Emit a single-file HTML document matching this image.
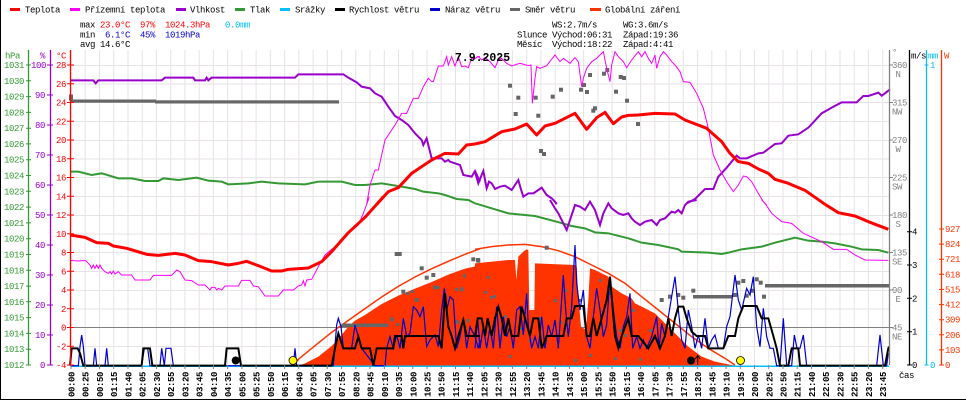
<!DOCTYPE html>
<html><head><meta charset="utf-8">
<style>
html,body{margin:0;padding:0;background:#fff;width:966px;height:400px;overflow:hidden}
svg{display:block}
text{font-family:"Liberation Mono","DejaVu Sans Mono",monospace;font-size:9px;letter-spacing:-0.4px}
.xl text{font-weight:bold;font-size:9px}
</style></head><body>
<svg width="966" height="400" viewBox="0 0 966 400" xmlns="http://www.w3.org/2000/svg">
<rect x="0" y="0" width="966" height="400" fill="#fff"/>
<line x1="0.5" y1="0" x2="0.5" y2="400" stroke="#000"/>
<line x1="0" y1="399.5" x2="966" y2="399.5" stroke="#000"/>

<!-- legend -->
<g stroke-width="3">
<line x1="10" y1="9.5" x2="20" y2="9.5" stroke="#ff0000"/>
<line x1="70" y1="9.5" x2="80" y2="9.5" stroke="#ff00ff"/>
<line x1="176" y1="9.5" x2="186" y2="9.5" stroke="#9900cc"/>
<line x1="235" y1="9.5" x2="245" y2="9.5" stroke="#339933"/>
<line x1="280" y1="9.5" x2="290" y2="9.5" stroke="#00bfff"/>
<line x1="335" y1="9.5" x2="345" y2="9.5" stroke="#000000"/>
<line x1="430" y1="9.5" x2="440" y2="9.5" stroke="#0000cc"/>
<line x1="510" y1="9.5" x2="520" y2="9.5" stroke="#666666"/>
<line x1="590" y1="9.5" x2="601" y2="9.5" stroke="#ff3300"/>
</g>
<g fill="#000">
<text x="25" y="12.5">Teplota</text>
<text x="85" y="12.5">Přízemní teplota</text>
<text x="190" y="12.5">Vlhkost</text>
<text x="250" y="12.5">Tlak</text>
<text x="295" y="12.5">Srážky</text>
<text x="349" y="12.5">Rychlost větru</text>
<text x="445" y="12.5">Náraz větru</text>
<text x="525" y="12.5">Směr větru</text>
<text x="605" y="12.5">Globální záření</text>
</g>

<!-- stats -->
<text x="80" y="27.5">max</text>
<text x="100" y="27.5" fill="#ff0000">23.0°C</text>
<text x="140" y="27.5" fill="#ff0000">97%</text>
<text x="165" y="27.5" fill="#ff0000">1024.3hPa</text>
<text x="225" y="27.5" fill="#00bfff">0.0mm</text>
<text x="80" y="37.5">min</text>
<text x="105" y="37.5" fill="#0000cc">6.1°C</text>
<text x="140" y="37.5" fill="#0000cc">45%</text>
<text x="165" y="37.5" fill="#0000cc">1019hPa</text>
<text x="80" y="47">avg 14.6°C</text>

<text x="552" y="27.5">WS:2.7m/s</text>
<text x="623" y="27.5">WG:3.6m/s</text>
<text x="517" y="37.5">Slunce</text>
<text x="552" y="37.5">Východ:06:31</text>
<text x="623" y="37.5">Západ:19:36</text>
<text x="517" y="47">Měsíc</text>
<text x="552" y="47">Východ:18:22</text>
<text x="623" y="47">Západ:4:41</text>

<!-- gridlines -->
<path stroke="#e6e2e6" stroke-width="1" fill="none" d="M71 50V365M85.2 50V365M99.5 50V365M113.7 50V365M128 50V365M142.2 50V365M156.4 50V365M170.7 50V365M184.9 50V365M199.2 50V365M213.4 50V365M227.6 50V365M241.9 50V365M256.1 50V365M270.4 50V365M284.6 50V365M298.8 50V365M313.1 50V365M327.3 50V365M341.6 50V365M355.8 50V365M370 50V365M384.3 50V365M398.5 50V365M412.8 50V365M427 50V365M441.2 50V365M455.5 50V365M469.7 50V365M484 50V365M498.2 50V365M512.4 50V365M526.7 50V365M540.9 50V365M555.2 50V365M569.4 50V365M583.6 50V365M597.9 50V365M612.1 50V365M626.4 50V365M640.6 50V365M654.8 50V365M669.1 50V365M683.3 50V365M697.6 50V365M711.8 50V365M726 50V365M740.3 50V365M754.5 50V365M768.8 50V365M783 50V365M797.2 50V365M811.5 50V365M825.7 50V365M840 50V365M854.2 50V365M868.4 50V365M882.7 50V365"/>
<path stroke="#e6e2e6" stroke-width="1" fill="none" d="M71 65.5H889M71 84H889M71 102.5H889M71 121.5H889M71 140.5H889M71 159H889M71 177.5H889M71 196.5H889M71 215.5H889M71 234H889M71 252.5H889M71 271.5H889M71 290.5H889M71 309H889M71 346.5H889"/>
<line x1="71" y1="327.5" x2="889" y2="327.5" stroke="#808080" stroke-width="1"/>

<!-- radiation fill -->
<g transform="translate(65,200) scale(0.333333)">
<polygon fill="#ff3300" points="700,497 720,490 760,470 800,438 830,405 850,380 870,362 900,345 950,312 1000,287 1050,266 1100,246 1150,224 1200,206 1245,196 1245,497"/>
</g>
<g transform="translate(475,200) scale(0.333333)">
<polygon fill="#ff3300" points="0,190 100,180 120,180 124,240 130,170 145,155 155,148 160,150 163,330 178,330 180,190 300,195 305,200 310,290 318,380 333,390 340,300 345,205 360,210 400,230 410,260 440,280 470,295 480,310 500,320 540,340 560,360 600,400 640,440 680,470 720,485 770,495 780,497 0,497"/>
</g>

<!-- radiation max curve -->
<g fill="none" stroke="#ff3300" stroke-width="1.5">
<polyline vector-effect="non-scaling-stroke" transform="translate(65,200) scale(0.333333)" points="690,492 700,478 750,437 800,397 850,361 900,326 950,291 1000,259 1050,231 1100,206 1150,184 1200,163 1245,146"/>
<polyline vector-effect="non-scaling-stroke" transform="translate(475,200) scale(0.333333)" points="0,148 50,140 100,135 150,133 200,140 250,152 300,170 350,195 400,220 450,250 500,290 550,330 600,370 650,410 700,445 750,475 780,495"/>
</g>

<!-- wind direction -->
<g fill="#666666">
<rect x="69" y="94.5" width="4" height="6"/>
<rect x="70" y="99.5" width="86" height="3.2"/>
<rect x="155" y="100.3" width="184" height="3.2"/>
<rect x="341.5" y="323.5" width="47" height="3.5"/>
<rect x="765" y="284" width="124" height="3.5"/>
<rect x="693" y="295" width="39" height="3.5"/>
<g>
<rect x="508" y="83.7" width="4" height="4"/><rect x="516.3" y="95.7" width="4" height="4"/><rect x="513.7" y="112" width="4" height="4"/><rect x="533.7" y="95.7" width="4" height="4"/><rect x="536.3" y="113.7" width="4" height="4"/><rect x="539" y="149" width="4" height="4"/><rect x="542" y="152" width="4" height="4"/><rect x="550.7" y="94.7" width="4" height="4"/><rect x="559" y="87.7" width="4" height="4"/><rect x="579" y="87.7" width="4" height="4"/><rect x="582" y="83" width="4" height="4"/><rect x="585" y="90" width="4" height="4"/><rect x="588" y="73" width="4" height="4"/><rect x="591.3" y="108.7" width="4" height="4"/><rect x="593" y="106.3" width="4" height="4"/><rect x="602" y="71.7" width="4" height="4"/><rect x="605.3" y="68" width="4" height="4"/><rect x="614" y="89.7" width="4" height="4"/><rect x="618.7" y="75" width="4" height="4"/><rect x="622" y="76" width="4" height="4"/><rect x="625" y="98.7" width="4" height="4"/><rect x="636" y="122" width="4" height="4"/>
<rect x="394.7" y="252" width="7" height="4"/><rect x="419.7" y="266.3" width="4" height="4"/><rect x="424.7" y="275.7" width="4" height="4"/><rect x="431.3" y="273" width="4" height="4"/><rect x="401.3" y="289.7" width="4" height="4"/><rect x="406" y="292" width="3" height="3"/><rect x="411" y="290" width="3" height="3"/><rect x="414.7" y="298" width="4" height="4"/><rect x="433" y="285.3" width="4" height="4"/><rect x="437" y="286" width="3" height="3"/><rect x="459.7" y="287.3" width="4" height="4"/><rect x="463" y="273.7" width="3" height="4"/><rect x="471.3" y="257.3" width="4" height="4"/><rect x="476.3" y="258.7" width="4" height="4"/><rect x="455" y="288" width="3" height="3"/><rect x="444" y="294" width="3" height="3"/><rect x="389.7" y="317.3" width="4" height="4"/><rect x="466.3" y="318.7" width="3" height="4"/><rect x="456" y="320" width="3" height="4"/><rect x="396" y="323" width="3" height="3"/>
<rect x="476" y="258" width="4" height="4"/><rect x="544.7" y="245.7" width="4" height="4"/><rect x="487" y="276" width="3" height="3"/><rect x="493" y="295" width="3" height="3"/><rect x="490" y="296" width="3" height="3"/><rect x="484" y="291" width="3" height="3"/><rect x="504" y="315" width="3" height="3"/><rect x="519" y="327" width="3" height="3"/><rect x="539" y="317" width="3" height="3"/><rect x="559" y="321" width="3" height="3"/><rect x="564" y="289" width="3" height="3"/><rect x="579" y="299" width="3" height="3"/><rect x="600" y="324" width="3" height="3"/><rect x="609" y="292" width="3" height="3"/><rect x="619" y="329" width="3" height="3"/><rect x="639" y="358" width="3" height="3"/><rect x="544" y="339" width="3" height="3"/><rect x="529" y="339" width="3" height="3"/><rect x="499" y="334" width="3" height="3"/><rect x="509" y="355" width="3" height="3"/><rect x="574" y="359" width="3" height="3"/><rect x="589" y="354" width="3" height="3"/><rect x="614" y="357" width="3" height="3"/><rect x="554" y="299" width="3" height="3"/><rect x="599" y="279" width="3" height="3"/><rect x="624" y="334" width="3" height="3"/><rect x="632" y="309" width="3" height="3"/><rect x="644" y="344" width="3" height="3"/><rect x="649" y="329" width="3" height="3"/>
<rect x="659.7" y="298" width="4" height="4"/><rect x="668" y="294.7" width="4" height="4"/><rect x="676.3" y="293" width="4" height="4"/><rect x="681.3" y="295.7" width="4" height="4"/><rect x="691.3" y="288.7" width="4" height="4"/><rect x="733" y="293" width="4" height="4"/><rect x="736.3" y="280.7" width="4" height="4"/><rect x="741.3" y="279" width="4" height="4"/><rect x="744.7" y="293.7" width="4" height="4"/><rect x="749.7" y="288.7" width="4" height="4"/><rect x="754.7" y="277.3" width="4" height="4"/><rect x="758.7" y="280.7" width="4" height="4"/><rect x="762" y="294.7" width="4" height="4"/>
</g>
</g>

<!-- pressure -->
<g fill="none" stroke="#339933" stroke-width="2">
<polyline vector-effect="non-scaling-stroke" transform="translate(65,45) scale(0.333333)" points="15,380 40,380 80,390 110,385 160,400 200,400 240,408 280,408 295,400 340,405 395,398 430,407 470,410 490,418 550,415 590,410 640,415 720,418 760,410 830,410 870,420 900,420 950,415 1010,425 1050,432 1075,440 1120,445 1140,450 1175,462 1210,465 1230,475"/>
<polyline vector-effect="non-scaling-stroke" transform="translate(475,200) scale(0.333333)" points="0,10 50,25 100,40 180,48 245,65 290,78 330,85 360,97 400,100 460,115 500,128 550,135 610,148 620,155 700,158 740,162 760,158 800,148 860,140 900,128 960,113 1000,122 1040,125 1080,130 1130,140 1160,148 1210,150 1240,158"/>
</g>

<!-- humidity -->
<g fill="none" stroke="#9900cc" stroke-width="2">
<polyline vector-effect="non-scaling-stroke" transform="translate(65,45) scale(0.333333)" points="15,106 85,106 92,115 100,106 290,106 300,98 385,98 390,106 420,106 425,98 430,106 440,98 690,98 700,88 835,88 850,98 875,112 890,125 915,130 930,145 950,155 970,185 990,213 1010,225 1030,240 1050,265 1070,285 1075,300 1085,280 1100,340 1130,340 1140,350 1150,345 1155,350 1185,360 1195,390 1220,395 1230,378 1245,410"/>
<polyline vector-effect="non-scaling-stroke" transform="translate(475,45) scale(0.333333)" points="0,380 10,415 18,395 25,378 35,430 42,410 50,415 60,432 75,425 90,422 110,435 120,420 130,405 137,430 145,455 160,445 175,445 190,435 200,428 215,450 230,460 240,470 245,478"/>
<polyline vector-effect="non-scaling-stroke" transform="translate(475,200) scale(0.333333)" points="225,0 240,25 250,40 260,60 275,90 285,60 300,15 315,20 330,30 345,5 360,30 375,75 385,40 400,10 410,25 430,40 445,45 460,40 470,55 480,65 495,75 510,65 530,60 545,75 555,60 570,55 580,45 590,35 600,38 610,30 620,40 630,15 640,5 665,0"/>
<polyline vector-effect="non-scaling-stroke" transform="translate(475,45) scale(0.333333)" points="635,475 660,462 690,432 715,432 730,395 755,368 785,332 795,340 815,340 850,325 865,323 900,297 920,295 940,272 970,268 1000,248 1040,205 1070,188 1100,172 1145,172 1165,153 1180,153 1210,143 1220,152 1230,145 1245,133"/>
</g>

<!-- ground temperature -->
<g fill="none" stroke="#ff00ff" stroke-width="1">
<polyline vector-effect="non-scaling-stroke" transform="translate(65,200) scale(0.333333)" points="15,181 40,183 55,182 62,182 70,190 75,195 80,205 85,195 90,205 95,195 100,205 105,195 110,205 120,215 130,220 135,215 140,222 145,213 150,222 160,215 170,225 200,225 210,240 255,240 265,226 320,226 335,210 345,215 360,240 380,242 400,255 420,255 430,265 435,270 440,262 450,262 455,270 460,265 470,270 480,258 520,258 530,241 555,241 565,258 580,260 600,288 640,288 655,270 685,270 700,258 710,255 715,242 720,258 725,240 740,238 760,200 780,165 810,140 850,100 880,75 895,40 910,0 912,-10"/>
<polyline vector-effect="non-scaling-stroke" transform="translate(65,45) scale(0.333333)" points="905,478 915,420 930,375 940,375 960,285 990,240 1010,205 1025,205 1045,160 1060,160 1075,125 1090,100 1100,110 1105,110 1120,63 1135,63 1145,35 1150,60 1160,35 1170,63 1180,35 1190,65 1200,63 1210,68 1220,40 1230,40 1238,35 1245,35"/>
<polyline vector-effect="non-scaling-stroke" transform="translate(475,45) scale(0.333333)" points="0,40 10,35 20,45 30,38 45,50 60,68 70,45 80,40 95,55 110,63 135,55 160,62 168,60 172,175 180,100 185,65 195,70 215,62 240,30 255,50 265,40 285,55 300,38 310,50 320,125 325,100 335,70 350,50 365,40 375,30 385,20 395,70 405,110 410,60 420,20 430,35 445,50 455,68 470,45 490,20 500,35 510,20 520,40 530,55 540,30 545,70 555,35 565,20 575,30 590,50 600,60 615,80 625,110 645,112 665,145 685,190 700,250 715,330 735,375 755,410 775,440 790,420 805,393 815,395 830,410 850,445 865,470 875,480"/>
<polyline vector-effect="non-scaling-stroke" transform="translate(475,200) scale(0.333333)" points="860,0 870,10 890,40 920,65 950,70 985,100 1040,125 1075,148 1115,148 1140,165 1170,180 1240,181"/>
</g>

<!-- temperature -->
<g fill="none" stroke="#ff0000" stroke-width="3" stroke-linejoin="round">
<polyline vector-effect="non-scaling-stroke" transform="translate(65,200) scale(0.333333)" points="15,105 60,112 95,128 130,130 145,138 185,145 245,163 280,166 330,160 360,165 400,182 440,185 490,195 520,190 545,184 580,197 620,213 650,213 670,208 730,204 770,185 800,155 850,98 900,52 945,2 955,-10"/>
<polyline vector-effect="non-scaling-stroke" transform="translate(65,45) scale(0.333333)" points="935,478 970,440 1000,428 1040,385 1070,365 1100,345 1140,325 1180,327 1205,300 1230,297"/>
<polyline vector-effect="non-scaling-stroke" transform="translate(475,45) scale(0.333333)" points="0,297 30,290 80,260 120,252 155,237 185,270 210,243 240,235 300,205 335,253 365,218 390,202 415,236 440,216 460,211 490,210 540,205 600,207 630,225 695,250 740,290 765,325 790,350 820,355 850,372 880,385 900,403 940,415 990,436 1050,478"/>
<polyline vector-effect="non-scaling-stroke" transform="translate(475,200) scale(0.333333)" points="1050,13 1090,38 1140,48 1180,65 1240,88"/>
</g>

<!-- rain baseline -->
<line x1="71" y1="366.3" x2="889" y2="366.3" stroke="#00bfff" stroke-width="1.5"/>

<!-- gusts -->
<g fill="none" stroke="#0000cc" stroke-width="1.2">
<polyline vector-effect="non-scaling-stroke" transform="translate(65,200) scale(0.333333)" points="15,497 40,497 45,440 50,405 55,440 60,497 85,497 90,445 95,497 120,497 125,445 130,497 230,497 238,445 248,445 255,497 285,497 290,445 298,497 303,445 318,445 325,497 685,497 690,445 695,497 805,497 815,375 820,355 828,380 835,445 860,445 870,375 880,410 890,445 930,497 960,497 965,445 975,410 985,445 995,405 1005,445 1015,355 1025,410 1035,400 1045,320 1055,330 1065,350 1075,320 1085,440 1095,420 1110,405 1120,440 1130,330 1138,265 1145,330 1155,290 1165,300 1175,445 1185,410 1195,355 1205,445 1215,380 1230,410 1240,445 1245,420"/>
<polyline vector-effect="non-scaling-stroke" transform="translate(475,200) scale(0.333333)" points="0,445 8,355 15,445 25,380 35,445 45,380 55,445 65,320 75,445 85,350 95,410 105,380 115,445 125,330 135,320 145,405 155,280 160,380 170,445 180,410 190,445 200,350 210,445 220,375 230,410 240,360 250,445 265,225 272,330 280,410 290,320 300,135 305,250 315,330 325,270 335,410 345,445 355,350 365,265 375,330 385,410 395,375 405,230 415,330 425,410 435,445 445,380 455,350 465,280 473,445 485,410 495,445 505,420 515,445 530,410 545,350 552,445 560,370 570,410 580,350 590,290 600,230 610,330 620,420 630,445 640,330 650,380 660,445 670,405 680,445 690,355 700,445 710,420 720,405 730,445 745,445 755,380 765,350 780,225 790,300 800,330 815,265 825,285 835,230 845,380 855,440 865,325 875,410 885,445 895,445 905,497 915,497 925,355 935,497 950,497 958,405 966,445 975,445 985,405 995,497 1205,497 1215,405 1225,497 1235,497 1240,460"/>
</g>

<!-- wind speed -->
<g fill="none" stroke="#000" stroke-width="2">
<polyline vector-effect="non-scaling-stroke" transform="translate(65,200) scale(0.333333)" points="15,497 20,445 38,445 45,460 55,497 230,497 235,445 255,445 262,497 480,497 485,445 520,445 528,497 800,497 810,445 820,400 835,445 870,445 880,410 890,445 915,445 925,497 935,445 985,445 990,408 1010,408 1015,445 1020,408 1120,408 1130,445 1140,280 1150,380 1160,408 1170,445 1180,408 1195,360 1205,408 1245,408"/>
<polyline vector-effect="non-scaling-stroke" transform="translate(475,200) scale(0.333333)" points="0,408 8,355 20,355 30,408 38,355 50,408 60,355 70,320 80,355 90,408 100,355 110,408 130,408 140,320 150,355 165,408 175,355 190,355 200,445 215,408 265,408 275,355 290,355 300,318 325,318 335,408 345,408 355,355 365,408 380,355 395,300 405,230 420,408 430,445 440,408 460,355 470,408 490,408 520,445 540,408 555,445 570,408 580,355 590,408 600,355 610,320 625,320 635,355 650,395 665,408 690,408 700,445 745,445 760,408 780,408 790,355 805,318 845,318 860,355 880,355 895,408 905,445 915,497 940,497 950,445 970,445 975,497 1230,497 1240,445 1242,440"/>
</g>

<!-- sun / moon markers -->
<circle cx="235.7" cy="360.5" r="4" fill="#000"/>
<circle cx="691" cy="360.5" r="4" fill="#000"/>
<circle cx="293" cy="360.5" r="4" fill="#ffff00" stroke="#000" stroke-width="0.8"/>
<circle cx="740.5" cy="360.5" r="4" fill="#ffff00" stroke="#000" stroke-width="0.8"/>
<line x1="697.7" y1="365" x2="697.7" y2="356" stroke="#000" stroke-width="1"/>
<path d="M695.2 359 L697.7 355.5 L700.2 359" fill="none" stroke="#000" stroke-width="1"/>

<!-- left axes -->
<line x1="28.5" y1="50" x2="28.5" y2="365" stroke="#339933" stroke-width="1.3"/>
<line x1="50.5" y1="50" x2="50.5" y2="365" stroke="#9900cc" stroke-width="1.3"/>
<line x1="70.5" y1="50" x2="70.5" y2="365" stroke="#ff0000" stroke-width="1.3"/>
<text x="5" y="58.5" fill="#339933">hPa</text>
<text x="40" y="58.5" fill="#9900cc">%</text>
<text x="56" y="58.5" fill="#ff0000">°C</text>

<g stroke="#339933" stroke-width="1"><path d="M26 365H31M26 349.2H31M26 333.4H31M26 317.6H31M26 301.8H31M26 286.1H31M26 270.3H31M26 254.5H31M26 238.7H31M26 222.9H31M26 207.1H31M26 191.3H31M26 175.5H31M26 159.7H31M26 143.9H31M26 128.2H31M26 112.4H31M26 96.6H31M26 80.8H31M26 65H31"/></g>
<g fill="#339933" text-anchor="end">
<text x="24" y="368">1012</text><text x="24" y="352.2">1013</text><text x="24" y="336.4">1014</text><text x="24" y="320.6">1015</text><text x="24" y="304.8">1016</text><text x="24" y="289.1">1017</text><text x="24" y="273.3">1018</text><text x="24" y="257.5">1019</text><text x="24" y="241.7">1020</text><text x="24" y="225.9">1021</text><text x="24" y="210.1">1022</text><text x="24" y="194.3">1023</text><text x="24" y="178.5">1024</text><text x="24" y="162.7">1025</text><text x="24" y="146.9">1026</text><text x="24" y="131.2">1027</text><text x="24" y="115.4">1028</text><text x="24" y="99.6">1029</text><text x="24" y="83.8">1030</text><text x="24" y="68">1031</text>
</g>
<g stroke="#9900cc" stroke-width="1"><path d="M47 365H53M47 335H53M47 305H53M47 275H53M47 245H53M47 215H53M47 185H53M47 155H53M47 125H53M47 95H53M47 65H53"/></g>
<g fill="#9900cc" text-anchor="end">
<text x="45" y="368">0</text><text x="45" y="338">10</text><text x="45" y="308">20</text><text x="45" y="278">30</text><text x="45" y="248">40</text><text x="45" y="218">50</text><text x="45" y="188">60</text><text x="45" y="158">70</text><text x="45" y="128">80</text><text x="45" y="98">90</text><text x="46" y="68">100</text>
</g>
<g stroke="#ff0000" stroke-width="1"><path d="M67 365H74M67 346.3H74M67 327.5H74M67 308.8H74M67 290H74M67 271.3H74M67 252.5H74M67 233.8H74M67 215H74M67 196.3H74M67 177.5H74M67 158.8H74M67 140H74M67 121.3H74M67 102.5H74M67 83.8H74M67 65H74"/></g>
<g fill="#ff0000" text-anchor="end">
<text x="66" y="368">-4</text><text x="66" y="349.3">-2</text><text x="66" y="330.5">0</text><text x="66" y="311.8">2</text><text x="66" y="293">4</text><text x="66" y="274.3">6</text><text x="66" y="255.5">8</text><text x="66" y="236.8">10</text><text x="66" y="218">12</text><text x="66" y="199.3">14</text><text x="66" y="180.5">16</text><text x="66" y="161.8">18</text><text x="66" y="143">20</text><text x="66" y="124.3">22</text><text x="66" y="105.5">24</text><text x="66" y="86.8">26</text><text x="66" y="68">28</text>
</g>

<!-- right axes -->
<line x1="889.5" y1="50" x2="889.5" y2="365" stroke="#808080" stroke-width="1.3"/>
<line x1="909.5" y1="50" x2="909.5" y2="365" stroke="#000" stroke-width="1.3"/>
<line x1="926.5" y1="50" x2="926.5" y2="365" stroke="#00bfff" stroke-width="1.3"/>
<line x1="941.5" y1="50" x2="941.5" y2="365" stroke="#ff3300" stroke-width="1.3"/>
<text x="892" y="55" fill="#808080">°</text>
<text x="911" y="58.5" fill="#000">m/s</text>
<text x="928" y="58.5" fill="#00bfff">mm</text>
<text x="944" y="58.5" fill="#ff3300">W</text>

<g stroke="#808080" stroke-width="1"><path d="M889 65H893M889 102.5H893M889 140H893M889 177.5H893M889 215H893M889 252.5H893M889 290H893M889 327.5H893"/></g>
<g fill="#808080">
<text x="892" y="68">360</text><text x="898" y="77" text-anchor="middle">N</text>
<text x="892" y="105.5">315</text><text x="897" y="114.5" text-anchor="middle">NW</text>
<text x="892" y="143">270</text><text x="898" y="152" text-anchor="middle">W</text>
<text x="892" y="180.5">225</text><text x="897" y="189.5" text-anchor="middle">SW</text>
<text x="892" y="218">180</text><text x="898" y="227" text-anchor="middle">S</text>
<text x="892" y="255.5">135</text><text x="897" y="264.5" text-anchor="middle">SE</text>
<text x="892" y="293">90</text><text x="898" y="302" text-anchor="middle">E</text>
<text x="892" y="330.5">45</text><text x="897" y="339.5" text-anchor="middle">NE</text>
</g>
<g stroke="#000" stroke-width="1"><path d="M907 365H912M907 331.7H912M907 298.3H912M907 265H912M907 231.7H912"/></g>
<g fill="#000">
<text x="912" y="368">0</text><text x="912" y="334.7">1</text><text x="912" y="301.3">2</text><text x="912" y="268">3</text><text x="912" y="234.7">4</text>
</g>
<g stroke="#00bfff" stroke-width="1"><path d="M924.5 365H928.5M924.5 65H928.5"/></g>
<g fill="#00bfff"><text x="930" y="368">0</text><text x="930" y="68">1</text></g>
<g stroke="#ff3300" stroke-width="1"><path d="M939 365H944M939 349.9H944M939 334.8H944M939 319.7H944M939 304.6H944M939 289.4H944M939 274.3H944M939 259.2H944M939 244.1H944M939 229H944"/></g>
<g fill="#ff3300">
<text x="945" y="368">0</text><text x="945" y="352.9">103</text><text x="945" y="337.8">206</text><text x="945" y="322.7">309</text><text x="945" y="307.6">412</text><text x="945" y="292.4">515</text><text x="945" y="277.3">618</text><text x="945" y="262.2">721</text><text x="945" y="247.1">824</text><text x="945" y="232">927</text>
</g>
<text x="899" y="378" fill="#000">čas</text>

<!-- title -->
<text x="482.5" y="61" text-anchor="middle" style="font-size:11.5px;font-weight:bold;letter-spacing:0">7.9.2025</text>

<!-- x ticks -->
<path stroke="#808080" stroke-width="1" d="M71 365V369M85.2 365V369M99.5 365V369M113.7 365V369M128 365V369M142.2 365V369M156.4 365V369M170.7 365V369M184.9 365V369M199.2 365V369M213.4 365V369M227.6 365V369M241.9 365V369M256.1 365V369M270.4 365V369M284.6 365V369M298.8 365V369M313.1 365V369M327.3 365V369M341.6 365V369M355.8 365V369M370 365V369M384.3 365V369M398.5 365V369M412.8 365V369M427 365V369M441.2 365V369M455.5 365V369M469.7 365V369M484 365V369M498.2 365V369M512.4 365V369M526.7 365V369M540.9 365V369M555.2 365V369M569.4 365V369M583.6 365V369M597.9 365V369M612.1 365V369M626.4 365V369M640.6 365V369M654.8 365V369M669.1 365V369M683.3 365V369M697.6 365V369M711.8 365V369M726 365V369M740.3 365V369M754.5 365V369M768.8 365V369M783 365V369M797.2 365V369M811.5 365V369M825.7 365V369M840 365V369M854.2 365V369M868.4 365V369M882.7 365V369"/>

<!-- x labels -->
<g class="xl" fill="#000" text-anchor="end">
<text transform="translate(74.5,372) rotate(-90)">00:00</text>
<text transform="translate(88.7,372) rotate(-90)">00:25</text>
<text transform="translate(103,372) rotate(-90)">00:50</text>
<text transform="translate(117.2,372) rotate(-90)">01:15</text>
<text transform="translate(131.5,372) rotate(-90)">01:40</text>
<text transform="translate(145.7,372) rotate(-90)">02:05</text>
<text transform="translate(159.9,372) rotate(-90)">02:30</text>
<text transform="translate(174.2,372) rotate(-90)">02:55</text>
<text transform="translate(188.4,372) rotate(-90)">03:20</text>
<text transform="translate(202.7,372) rotate(-90)">03:45</text>
<text transform="translate(216.9,372) rotate(-90)">04:10</text>
<text transform="translate(231.1,372) rotate(-90)">04:35</text>
<text transform="translate(245.4,372) rotate(-90)">05:00</text>
<text transform="translate(259.6,372) rotate(-90)">05:25</text>
<text transform="translate(273.9,372) rotate(-90)">05:50</text>
<text transform="translate(288.1,372) rotate(-90)">06:15</text>
<text transform="translate(302.3,372) rotate(-90)">06:40</text>
<text transform="translate(316.6,372) rotate(-90)">07:05</text>
<text transform="translate(330.8,372) rotate(-90)">07:30</text>
<text transform="translate(345.1,372) rotate(-90)">07:55</text>
<text transform="translate(359.3,372) rotate(-90)">08:20</text>
<text transform="translate(373.5,372) rotate(-90)">08:45</text>
<text transform="translate(387.8,372) rotate(-90)">09:10</text>
<text transform="translate(402,372) rotate(-90)">09:35</text>
<text transform="translate(416.3,372) rotate(-90)">10:00</text>
<text transform="translate(430.5,372) rotate(-90)">10:25</text>
<text transform="translate(444.7,372) rotate(-90)">10:50</text>
<text transform="translate(459,372) rotate(-90)">11:15</text>
<text transform="translate(473.2,372) rotate(-90)">11:40</text>
<text transform="translate(487.5,372) rotate(-90)">12:05</text>
<text transform="translate(501.7,372) rotate(-90)">12:30</text>
<text transform="translate(515.9,372) rotate(-90)">12:55</text>
<text transform="translate(530.2,372) rotate(-90)">13:20</text>
<text transform="translate(544.4,372) rotate(-90)">13:45</text>
<text transform="translate(558.7,372) rotate(-90)">14:10</text>
<text transform="translate(572.9,372) rotate(-90)">14:35</text>
<text transform="translate(587.1,372) rotate(-90)">15:00</text>
<text transform="translate(601.4,372) rotate(-90)">15:25</text>
<text transform="translate(615.6,372) rotate(-90)">15:50</text>
<text transform="translate(629.9,372) rotate(-90)">16:15</text>
<text transform="translate(644.1,372) rotate(-90)">16:40</text>
<text transform="translate(658.3,372) rotate(-90)">17:05</text>
<text transform="translate(672.6,372) rotate(-90)">17:30</text>
<text transform="translate(686.8,372) rotate(-90)">17:55</text>
<text transform="translate(701.1,372) rotate(-90)">18:20</text>
<text transform="translate(715.3,372) rotate(-90)">18:45</text>
<text transform="translate(729.5,372) rotate(-90)">19:10</text>
<text transform="translate(743.8,372) rotate(-90)">19:35</text>
<text transform="translate(758,372) rotate(-90)">20:00</text>
<text transform="translate(772.3,372) rotate(-90)">20:25</text>
<text transform="translate(786.5,372) rotate(-90)">20:50</text>
<text transform="translate(800.7,372) rotate(-90)">21:15</text>
<text transform="translate(815,372) rotate(-90)">21:40</text>
<text transform="translate(829.2,372) rotate(-90)">22:05</text>
<text transform="translate(843.5,372) rotate(-90)">22:30</text>
<text transform="translate(857.7,372) rotate(-90)">22:55</text>
<text transform="translate(871.9,372) rotate(-90)">23:20</text>
<text transform="translate(886.2,372) rotate(-90)">23:45</text>
</g>
</svg>
</body></html>
